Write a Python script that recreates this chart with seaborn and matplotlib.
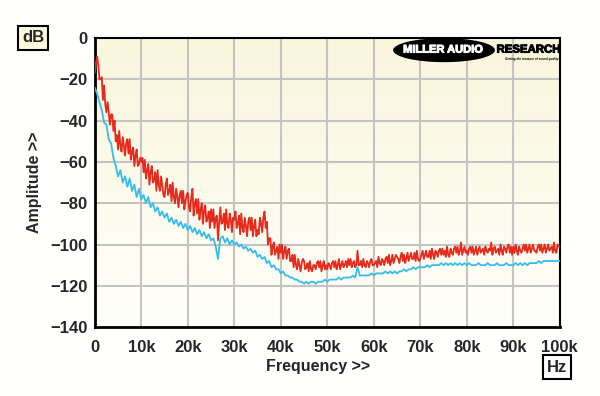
import numpy as np
import pandas as pd
import seaborn as sns
import matplotlib.pyplot as plt
import matplotlib.patheffects as pe
from matplotlib.patches import Ellipse

# red trace, dB, every 0.25 kHz (0..100k)
red_step = 250
red_db = [
    -17, -12, -9, -13, -20, -20, -19, -30, -23, -32, -36, -31, -36, -42, -37, -37, -45, -40, -50, -47,
    -54, -45, -52, -55, -48, -52, -57, -51, -49, -56, -49, -59, -55, -53, -62, -57, -54, -62, -61, -58,
    -60, -58, -65, -59, -68, -64, -61, -71, -65, -62, -70, -69, -65, -74, -64, -71, -74, -67, -71, -76,
    -77, -71, -68, -76, -74, -71, -79, -70, -77, -80, -73, -77, -82, -76, -74, -80, -74, -83, -79, -76,
    -75, -82, -84, -77, -73, -86, -80, -78, -85, -78, -88, -83, -80, -90, -84, -81, -89, -87, -84, -92,
    -83, -89, -83, -92, -87, -86, -98, -89, -82, -90, -89, -85, -93, -83, -90, -92, -85, -88, -94, -87,
    -88, -84, -92, -90, -86, -95, -85, -92, -94, -87, -91, -96, -89, -87, -93, -87, -96, -91, -88, -96,
    -93, -95, -87, -90, -94, -87, -84, -92, -89, -100, -97, -97, -105, -101, -99, -105, -103, -101, -107, -100,
    -104, -100, -107, -103, -101, -107, -103, -102, -108, -108, -105, -111, -105, -110, -112, -107, -110, -113, -109, -107,
    -108, -112, -111, -109, -113, -108, -112, -113, -110, -110, -112, -109, -108, -111, -108, -113, -110, -108, -112, -110,
    -112, -109, -110, -112, -109, -108, -111, -108, -112, -110, -107, -112, -110, -108, -111, -110, -108, -111, -107, -110,
    -107, -111, -109, -108, -111, -110, -103, -110, -110, -108, -111, -107, -110, -111, -108, -109, -111, -108, -107, -110,
    -110, -109, -108, -111, -106, -109, -110, -107, -108, -110, -107, -106, -109, -105, -110, -108, -105, -109, -107, -105,
    -106, -107, -109, -106, -104, -108, -105, -109, -107, -104, -108, -106, -104, -107, -107, -104, -108, -103, -107, -108,
    -107, -105, -103, -107, -105, -103, -106, -106, -103, -107, -102, -105, -107, -103, -104, -106, -103, -102, -105, -102,
    -105, -103, -106, -101, -105, -106, -102, -104, -105, -102, -101, -104, -101, -105, -103, -99, -105, -103, -101, -104,
    -103, -105, -102, -101, -104, -101, -105, -103, -101, -105, -103, -101, -104, -103, -102, -105, -101, -103, -104, -102,
    -103, -99, -105, -102, -101, -104, -103, -102, -105, -100, -103, -105, -101, -102, -104, -101, -100, -104, -101, -105,
    -101, -104, -100, -103, -105, -101, -103, -104, -102, -100, -103, -100, -104, -102, -100, -104, -102, -100, -103, -103,
    -104, -101, -100, -103, -100, -104, -102, -100, -104, -102, -100, -103, -102, -101, -104, -99, -103, -104, -100, -101,
    -101,
]

# blue trace, dB, read every 0.5 kHz
blue_step = 500
blue_db = [
    -24, -27, -31, -35, -41, -42, -49, -51, -58, -62,
    -67, -64, -70, -67, -72, -68, -74, -71, -77, -73,
    -78, -76, -80, -77, -82, -80, -84, -82, -86, -84,
    -87, -85, -89, -87, -90, -88, -91, -89, -92, -90,
    -93, -91, -94, -92, -95, -93, -96, -94, -97, -95,
    -98, -97, -101, -107, -97, -96, -99, -97, -100, -98,
    -100, -99, -101, -100, -102, -101, -103, -102, -104, -103,
    -106, -105, -107, -106, -109, -108, -111, -110, -112, -112,
    -114, -113, -115, -115, -116, -116, -117, -117, -118, -118,
    -119, -118, -119, -118, -118, -119, -118, -118, -118, -117,
    -118, -117, -117, -117, -117, -116, -117, -116, -116, -116,
    -116, -115, -116, -111, -115, -115, -115, -115, -115, -114,
    -115, -114, -114, -114, -114, -113, -114, -113, -114, -113,
    -114, -113, -113, -112, -113, -112, -112, -111, -112, -111,
    -111, -111, -111, -110, -111, -110, -110, -110, -110, -109,
    -110, -109, -110, -109, -110, -109, -110, -109, -110, -109,
    -110, -109, -110, -110, -110, -109, -110, -110, -110, -109,
    -110, -110, -110, -109, -110, -110, -110, -109, -110, -110,
    -110, -109, -110, -109, -110, -109, -110, -109, -109, -109,
    -109, -108, -109, -108, -108, -108, -108, -108, -108, -108,
    -108,
]

x_ticks = [0, 10000, 20000, 30000, 40000, 50000, 60000, 70000, 80000, 90000, 100000]
x_labels = ["0", "10k", "20k", "30k", "40k", "50k", "60k", "70k", "80k", "90k", "100k"]
y_ticks = [0, -20, -40, -60, -80, -100, -120, -140]

red_df = pd.DataFrame({"freq": np.arange(len(red_db)) * red_step, "db": red_db, "trace": "red"})
blue_df = pd.DataFrame({"freq": np.arange(len(blue_db)) * blue_step, "db": blue_db, "trace": "blue"})
df = pd.concat([blue_df, red_df], ignore_index=True)

sns.set_style("white")
plt.rcParams["font.family"] = ["Liberation Sans", "DejaVu Sans"]

fig = plt.figure(figsize=(6, 3.96), dpi=100, facecolor="#fffffe")
ax = fig.add_axes([0.158, 0.174, 0.775, 0.730])

# pale yellow gradient background
grad = np.linspace(0, 1, 256).reshape(-1, 1)
top = np.array([249, 246, 220]) / 255
bot = np.array([255, 255, 250]) / 255
img = top[None, None, :] * (1 - grad[:, :, None]) + bot[None, None, :] * grad[:, :, None]
ax.imshow(img, extent=[0, 1, 0, 1], transform=ax.transAxes, aspect="auto", zorder=0)

for xv in x_ticks[1:-1]:
    ax.axvline(xv, color="#c4c4c4", lw=1.5, zorder=1)
for yv in y_ticks[1:-1]:
    ax.axhline(yv, color="#c4c4c4", lw=1.5, zorder=1)

sns.lineplot(data=df, x="freq", y="db", hue="trace",
             palette={"red": "#e62a1c", "blue": "#35bdec"},
             hue_order=["blue", "red"], linewidth=1.3, legend=False,
             estimator=None, sort=False, ax=ax, zorder=3)
ax.lines[-2].set_zorder(4)

ax.set_xlim(0, 100000)
ax.set_ylim(-140, 0)
ax.set_xticks(x_ticks)
ax.set_xticklabels(x_labels)
ax.set_yticks(y_ticks)
ax.tick_params(axis="both", direction="out", length=4, width=1, color="black",
               labelsize=12)
ax.tick_params(axis="x", pad=5)
ax.tick_params(axis="y", pad=1)
for lab in ax.get_xticklabels() + ax.get_yticklabels():
    lab.set_fontweight("bold")

for side in ["left", "bottom"]:
    ax.spines[side].set_linewidth(2)
    ax.spines[side].set_color("black")
for side in ["top", "right"]:
    ax.spines[side].set_linewidth(1.5)
    ax.spines[side].set_color("black")
    ax.spines[side].set_visible(True)

ax.set_xlabel("Frequency >>", fontsize=11.5, fontweight="bold")
ax.set_ylabel("Amplitude >>", fontsize=11.5, fontweight="bold")
ax.xaxis.set_label_coords(0.48, -0.111)
ax.yaxis.set_label_coords(-0.114, 0.5)

fig.text(33 / 600, 1 - 38 / 396, "dB", fontsize=12, fontweight="bold",
         ha="center", va="center",
         bbox=dict(boxstyle="square,pad=0.25", fc="#fbf8dc", ec="black", lw=1.5))
fig.text(557 / 600, 1 - 367 / 396, "Hz", fontsize=12, fontweight="bold",
         ha="center", va="center",
         bbox=dict(boxstyle="square,pad=0.25", fc="white", ec="black", lw=1.5))

# logo
ax.add_patch(Ellipse((0.751, 0.958), 0.219, 0.083, transform=ax.transAxes,
                     fc="black", ec="none", zorder=5))
ax.text(0.749, 0.960, "MILLER AUDIO", transform=ax.transAxes, color="white",
        fontsize=8.0, fontweight="bold", ha="center", va="center", zorder=6,
        path_effects=[pe.withStroke(linewidth=0.7, foreground="white")])
ax.text(0.864, 0.960, "RESEARCH", transform=ax.transAxes, color="black",
        fontsize=8.2, fontweight="bold", ha="left", va="center", zorder=6,
        path_effects=[pe.withStroke(linewidth=0.7, foreground="black")])
ax.text(0.998, 0.927, "Getting the measure of sound quality", transform=ax.transAxes,
        color="black", fontsize=2.2, fontweight="bold", style="italic",
        ha="right", va="center", zorder=6)

fig.savefig("out.png", dpi=100, facecolor=fig.get_facecolor())
